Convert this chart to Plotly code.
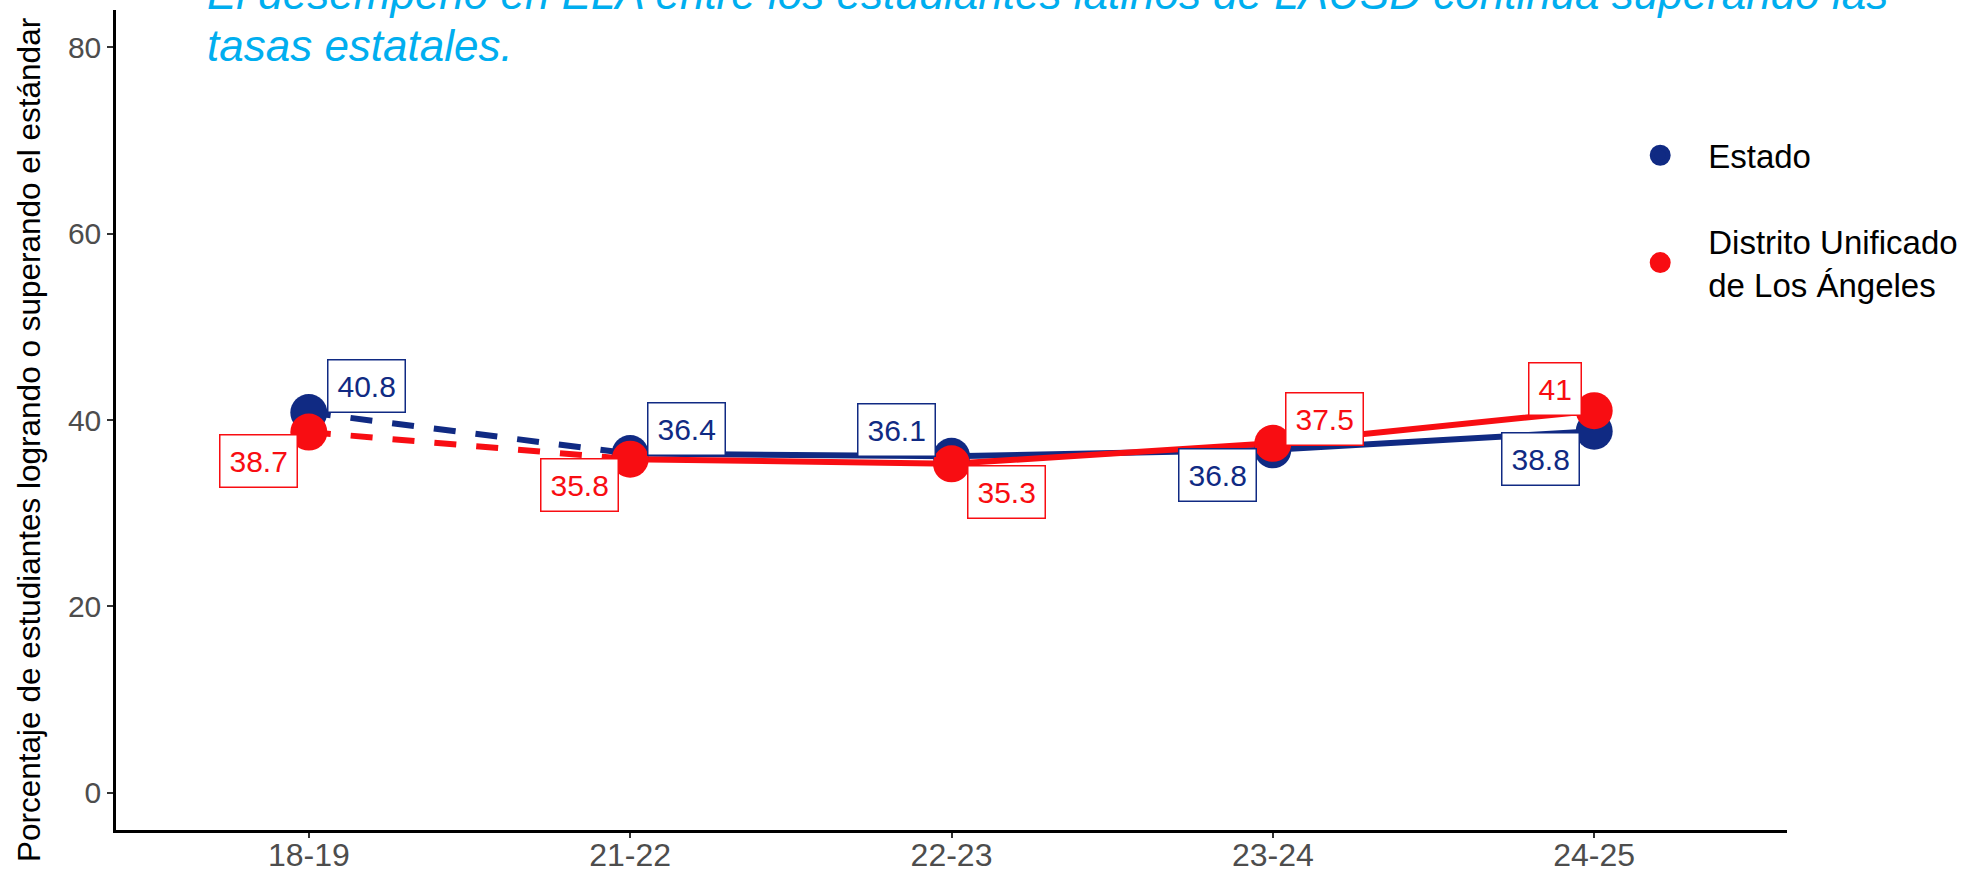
import plotly.graph_objects as go

# datos
categorias = ["18-19", "21-22", "22-23", "23-24", "24-25"]
estado = [40.8, 36.4, 36.1, 36.8, 38.8]
lausd = [38.7, 35.8, 35.3, 37.5, 41]
nombres = ["Estado", "Distrito Unificado<br>de Los Ángeles"]

titulo = ["El desempeño en ELA entre los estudiantes latinos de LAUSD continúa superando las",
          "tasas estatales."]
titulo_y = "Porcentaje de estudiantes logrando o superando el estándar"

# estilo
azul = "#102A83"
rojo = "#F80D12"
fuente = "Liberation Sans, Arial, sans-serif"

# desplazamiento de etiquetas (px), como ggrepel
desp_estado = [(58, 27), (56, 25), (-55, 26), (-55, -25), (-54, -28)]
desp_lausd = [(-50, -29), (-51, -26), (55, -28), (52, 24), (-39, 22)]

fig = go.Figure()

series = [(estado, azul, desp_estado), (lausd, rojo, desp_lausd)]

# lineas: tramo 18-19 -> 21-22 discontinuo, resto continuo
for valores, color, _ in series:
    fig.add_trace(go.Scatter(x=categorias[:2], y=valores[:2], mode="lines",
                             line=dict(color=color, width=6, dash="22px,20px"),
                             showlegend=False, hoverinfo="skip"))
    fig.add_trace(go.Scatter(x=categorias[1:], y=valores[1:], mode="lines",
                             line=dict(color=color, width=6),
                             showlegend=False, hoverinfo="skip"))

# puntos
for valores, color, _ in series:
    fig.add_trace(go.Scatter(x=categorias, y=valores, mode="markers",
                             marker=dict(color=color, size=37),
                             showlegend=False))

# leyenda
for i, (nombre, (_, color, _)) in enumerate(zip(nombres, series)):
    fig.add_trace(go.Scatter(x=[None], y=[None], mode="markers", name=nombre,
                             legendgroup=str(i),
                             marker=dict(color=color, size=37,
                                         line=dict(color=color, width=5))))

# etiquetas de valores
for valores, color, desp in series:
    for c, v, (dx, dy) in zip(categorias, valores, desp):
        fig.add_annotation(x=c, y=v, text=f"{v:g}", showarrow=False,
                           xshift=dx, yshift=dy,
                           font=dict(family=fuente, size=30, color=color),
                           bgcolor="white", bordercolor=color, borderwidth=1.5,
                           borderpad=9)

# titulo (dos lineas, la primera cortada arriba como en el original)
for linea, yp in zip(titulo, [0.9878, 0.9244]):
    fig.add_annotation(text=linea, xref="paper", yref="paper", x=0.0532, y=yp,
                       xanchor="left", yanchor="bottom", align="left", showarrow=False,
                       font=dict(family=fuente, size=44, color="#00AEEF", style="italic"))

# titulo del eje y
fig.add_annotation(text=titulo_y, xref="paper", yref="paper", x=-0.0525, y=0.476,
                   textangle=-90, showarrow=False, xanchor="center", yanchor="middle",
                   font=dict(family=fuente, size=31.5, color="black"))

fig.update_layout(
    width=1973, height=872,
    margin=dict(l=116, r=184, t=10, b=42),
    plot_bgcolor="white", paper_bgcolor="white",
    font=dict(family=fuente, color="black"),
    legend=dict(x=0.8954, y=0.857, xanchor="left", yanchor="top",
                font=dict(size=33, color="black"), tracegroupgap=40,
                itemwidth=86, bgcolor="rgba(0,0,0,0)"),
)
fig.update_xaxes(type="category", range=[-0.6, 4.6], showline=True, linecolor="black",
                 linewidth=2.5, ticks="outside", ticklen=5, tickwidth=2, tickcolor="#333333",
                 tickfont=dict(size=32, color="#4D4D4D"), showgrid=False, zeroline=False,
                 automargin=False, ticklabelstandoff=-10)
fig.update_yaxes(range=[-4, 84], tickvals=[0, 20, 40, 60, 80], showline=True,
                 linecolor="black", linewidth=2.5, ticks="outside", ticklen=6, tickwidth=2,
                 tickcolor="#333333", tickfont=dict(size=30, color="#4D4D4D"),
                 showgrid=False, zeroline=False, automargin=False)

# sin margen del body para que la figura empiece en (0, 0)
fig.write_html("out.html", config={"displayModeBar": False},
               post_script="document.body.style.margin = '0';")
